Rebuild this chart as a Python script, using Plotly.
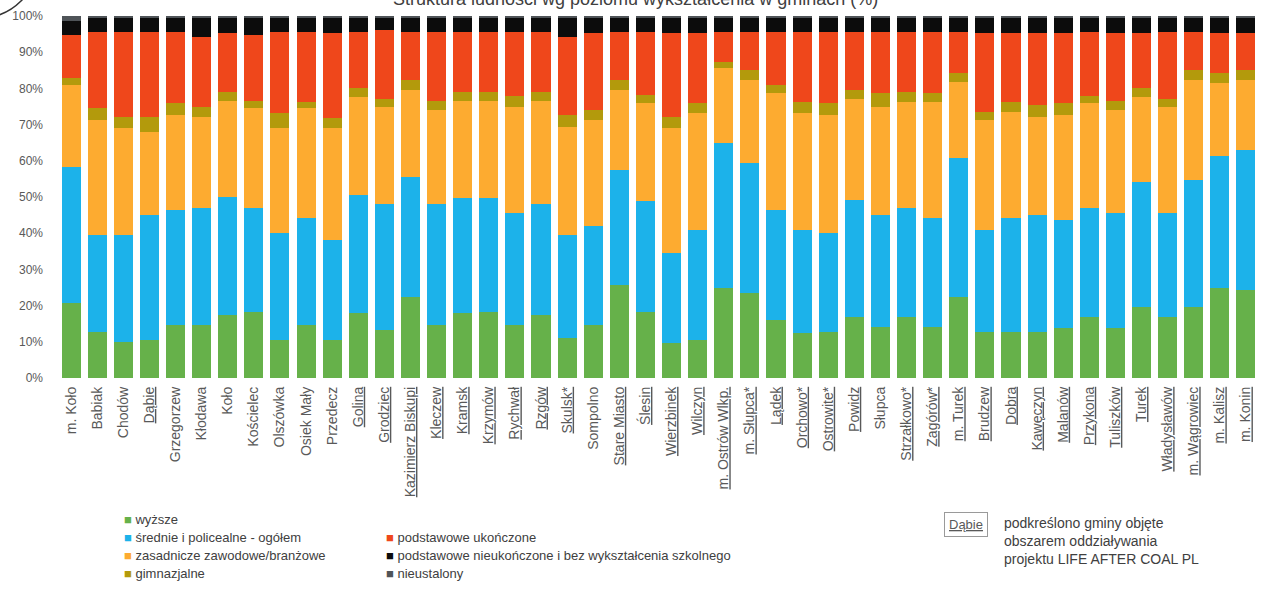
import plotly.graph_objects as go

categories = ["m. Koło", "Babiak", "Chodów", "Dąbie", "Grzegorzew", "Kłodawa", "Koło", "Kościelec",
              "Olszówka", "Osiek Mały", "Przedecz", "Golina", "Grodziec", "Kazimierz Biskupi", "Kleczew",
              "Kramsk", "Krzymów", "Rychwał", "Rzgów", "Skulsk*", "Sompolno", "Stare Miasto", "Ślesin",
              "Wierzbinek", "Wilczyn", "m. Ostrów Wlkp.", "m. Słupca*", "Lądek", "Orchowo*", "Ostrowite*",
              "Powidz", "Słupca", "Strzałkowo*", "Zagórów*", "m. Turek", "Brudzew", "Dobra", "Kawęczyn",
              "Malanów", "Przykona", "Tuliszków", "Turek", "Władysławów", "m. Wągrowiec", "m. Kalisz", "m. Konin"]

underlined = ["Dąbie", "Golina", "Grodziec", "Kazimierz Biskupi", "Kleczew", "Kramsk", "Krzymów", "Rychwał",
              "Rzgów", "Skulsk*", "Stare Miasto", "Ślesin", "Wierzbinek", "Wilczyn", "m. Ostrów Wlkp.",
              "m. Słupca*", "Lądek", "Orchowo*", "Ostrowite*", "Powidz", "Strzałkowo*", "Zagórów*", "m. Turek",
              "Brudzew", "Dobra", "Kawęczyn", "Malanów", "Przykona", "Tuliszków", "Turek", "Władysławów",
              "m. Wągrowiec", "m. Kalisz", "m. Konin"]

wyzsze = [20.7, 12.8, 10.0, 10.5, 14.6, 14.6, 17.4, 18.3, 10.5, 14.6, 10.5, 17.9, 13.3, 22.5, 14.6, 17.9,
          18.3, 14.6, 17.4, 11.0, 14.6, 25.7, 18.3, 9.6, 10.5, 24.8, 23.4, 16.0, 12.3, 12.8, 16.9, 14.2,
          16.9, 14.2, 22.5, 12.8, 12.8, 12.8, 13.7, 16.9, 13.7, 19.7, 16.9, 19.7, 24.8, 24.3]
srednie = [37.6, 26.7, 29.5, 34.5, 31.8, 32.4, 32.7, 28.7, 29.5, 29.5, 27.6, 32.7, 34.9, 33.1, 33.6, 31.7,
           31.3, 30.9, 30.8, 28.5, 27.3, 31.8, 30.5, 24.8, 30.4, 40.0, 35.9, 30.4, 28.6, 27.2, 32.3, 30.8,
           30.1, 29.9, 38.2, 28.1, 31.3, 32.2, 29.9, 30.1, 31.8, 34.5, 28.6, 35.0, 36.4, 38.7]
zasadnicze = [22.7, 31.8, 29.5, 23.0, 26.3, 25.2, 26.3, 27.5, 29.0, 30.4, 30.9, 27.1, 26.8, 24.0, 25.8, 26.8,
              26.8, 29.5, 28.2, 29.9, 29.4, 22.1, 27.1, 34.6, 32.2, 20.7, 23.0, 32.2, 32.2, 32.7, 28.0, 30.0,
              29.3, 32.2, 21.2, 30.4, 29.5, 27.2, 29.1, 28.9, 28.5, 23.5, 29.5, 27.6, 20.3, 19.3]
gimnazjalne = [2.0, 3.2, 3.2, 4.2, 3.2, 2.8, 2.6, 1.9, 4.1, 1.8, 2.7, 2.3, 2.2, 2.7, 2.4, 2.6,
               2.6, 2.8, 2.6, 3.3, 2.7, 2.7, 2.3, 3.2, 2.8, 1.9, 2.8, 2.4, 3.2, 3.2, 2.4, 3.6,
               2.7, 2.3, 2.3, 2.3, 2.7, 3.2, 3.2, 1.9, 2.4, 2.3, 2.2, 2.8, 2.7, 2.8]
podst_ukonczone = [11.8, 21.2, 23.5, 23.5, 19.8, 19.3, 16.2, 18.4, 22.6, 19.4, 23.5, 15.7, 18.9, 13.4, 19.3, 16.7,
                   16.7, 17.9, 16.7, 21.6, 21.2, 13.4, 17.5, 23.0, 19.3, 8.3, 10.6, 14.7, 19.4, 19.8, 16.1, 17.1,
                   16.7, 17.1, 11.5, 21.6, 18.9, 19.8, 19.3, 17.9, 18.8, 15.2, 18.5, 10.6, 11.0, 10.1]
podst_nieukonczone = [3.7, 4.0, 4.0, 4.0, 4.0, 5.2, 4.5, 4.9, 4.0, 4.0, 4.5, 4.0, 3.6, 4.0, 4.0, 4.0,
                      4.0, 4.0, 4.0, 5.4, 4.5, 4.0, 4.0, 4.5, 4.5, 4.0, 4.0, 4.0, 4.0, 4.0, 4.0, 4.0,
                      4.0, 4.0, 4.0, 4.5, 4.5, 4.5, 4.5, 4.0, 4.5, 4.5, 4.0, 4.0, 4.5, 4.5]
nieustalony = [1.5, 0.3, 0.3, 0.3, 0.3, 0.5, 0.3, 0.3, 0.3, 0.3, 0.3, 0.3, 0.3, 0.3, 0.3, 0.3,
               0.3, 0.3, 0.3, 0.3, 0.3, 0.3, 0.3, 0.3, 0.3, 0.3, 0.3, 0.3, 0.3, 0.3, 0.3, 0.3,
               0.3, 0.3, 0.3, 0.3, 0.3, 0.3, 0.3, 0.3, 0.3, 0.3, 0.3, 0.3, 0.3, 0.3]

series_names = ["wyższe", "średnie i policealne - ogółem", "zasadnicze zawodowe/branżowe", "gimnazjalne",
                "podstawowe ukończone", "podstawowe nieukończone i bez wykształcenia szkolnego", "nieustalony"]
series_values = [wyzsze, srednie, zasadnicze, gimnazjalne, podst_ukonczone, podst_nieukonczone, nieustalony]
colors = ["#66b14a", "#1cb2ea", "#fdab30", "#b39a0c", "#ef471b", "#0c0c0c", "#4f5458"]

W, H = 1263, 590
L, R, T, B = 58, 4, 16, 212
pw, ph = W - L - R, H - T - B

def px(x):
    return (x - L) / pw

def py(y):
    return (H - B - y) / ph

FONT = "Liberation Sans, Arial, sans-serif"
GREY = "#595959"

fig = go.Figure()
for name, vals, col in zip(series_names, series_values, colors):
    fig.add_trace(go.Bar(x=categories, y=vals, name=name, marker=dict(color=col, line=dict(width=0))))

ticktext = [f"<u>{c}</u>" if c in underlined else c for c in categories]

annotations = []
# legend (manual layout, two columns)
legend_items = [
    (0, 122, 519), (1, 122, 537), (2, 122, 555), (3, 122, 573),
    (4, 384, 537), (5, 384, 555), (6, 384, 573),
]
for idx, x, y in legend_items:
    annotations.append(dict(
        x=px(x), y=py(y), xref="paper", yref="paper", xanchor="left", yanchor="middle", showarrow=False,
        text=f'<span style="color:{colors[idx]}">■</span> {series_names[idx]}',
        font=dict(family=FONT, size=13, color="#404040")))

# note box
annotations.append(dict(x=px(944), y=py(524), xref="paper", yref="paper", xanchor="left", yanchor="middle",
                        showarrow=False, text="<u>Dąbie</u>", font=dict(family=FONT, size=13, color=GREY),
                        bordercolor="#9a9a9a", borderwidth=1, borderpad=4))
for i, line in enumerate(["podkreślono gminy objęte", "obszarem oddziaływania", "projektu LIFE AFTER COAL PL"]):
    annotations.append(dict(x=px(1002), y=py(523 + 18 * i), xref="paper", yref="paper", xanchor="left",
                            yanchor="middle", showarrow=False, text=line,
                            font=dict(family=FONT, size=14, color="#404040")))

# title (mostly cut off at the top edge, as in the reference)
annotations.append(dict(x=px(635), y=py(11), xref="paper", yref="paper", xanchor="center", yanchor="bottom",
                        showarrow=False, text="Struktura ludności wg poziomu wykształcenia w gminach (%)",
                        font=dict(family=FONT, size=18, color="#404040")))

shapes = [dict(type="circle", xref="paper", yref="paper", x0=px(-78), x1=px(38), y0=py(18), y1=py(-98),
               line=dict(color="#333333", width=1.5))]

fig.update_layout(
    width=W, height=H,
    barmode="stack", bargap=0.27,
    showlegend=False,
    plot_bgcolor="white", paper_bgcolor="white",
    margin=dict(l=L, r=R, t=T, b=B, autoexpand=False),
    font=dict(family=FONT, color=GREY),
    xaxis=dict(tickmode="array", tickvals=categories, ticktext=ticktext, tickangle=-90,
               tickfont=dict(family=FONT, size=14, color=GREY), showgrid=False, showline=False,
               ticks="", ticklabelstandoff=5),
    yaxis=dict(range=[0, 100], tickvals=list(range(0, 101, 10)),
               ticktext=[f"{v}%" for v in range(0, 101, 10)], tickfont=dict(family=FONT, size=12, color=GREY),
               showgrid=False, zeroline=False, showline=False, ticks="", ticklabelstandoff=14),
    annotations=annotations,
    shapes=shapes,
)

fig.write_html("out.html", config={"displayModeBar": False},
               post_script="document.body.style.margin='0';document.body.style.padding='0';")
